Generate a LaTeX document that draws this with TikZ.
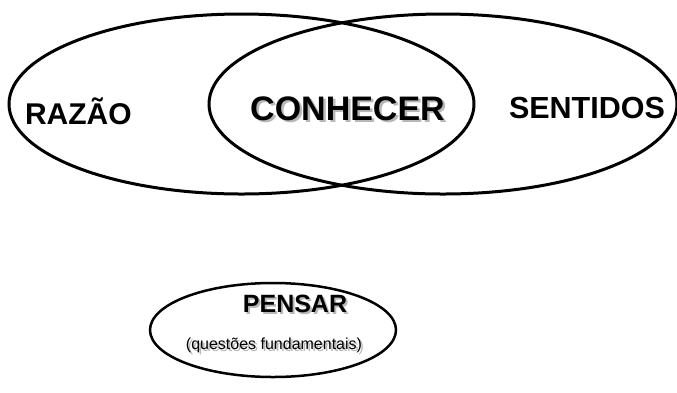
\documentclass[tikz,border=0pt]{standalone}
\usepackage{fontspec}
\setmainfont{Liberation Sans}
\usetikzlibrary{shapes.geometric}
\tikzset{
  ring/.style={ellipse, draw=black, line width=#1, inner sep=0pt, fill=none},
  ring/.default=3pt,
  lbl/.style={inner sep=0pt, outer sep=0pt, anchor=base, font=\bfseries},
  shade/.style={inner sep=0pt, outer sep=0pt, anchor=base, text=black!28},
}
\begin{document}
\begin{tikzpicture}[x=1pt,y=-1pt]
\useasboundingbox (0,0) rectangle (677,392);
% ellipses
\node[ring, minimum width=465pt, minimum height=180pt] (razao) at (241.5,104) {};
\node[ring, minimum width=468pt, minimum height=180pt] (sentidos) at (443,104) {};
\node[ring=2.5pt, minimum width=246pt, minimum height=94pt] (pensar) at (273,330) {};
% texts
\node[lbl, anchor=base west, font=\bfseries\fontsize{30}{36}\selectfont] (tr) at (25,124) {RAZÃO};
\node[lbl, anchor=base west, font=\bfseries\fontsize{30.5}{36}\selectfont] (ts) at (509,118) {SENTIDOS};
\node[shade, font=\bfseries\fontsize{34}{40}\selectfont] (tcs) at (350,122.5) {CONHECER};
\node[lbl, font=\bfseries\fontsize{34}{40}\selectfont] (tc) at (347.5,120) {CONHECER};
\node[shade, font=\bfseries\fontsize{25}{30}\selectfont] (tps) at (297,314.5) {PENSAR};
\node[lbl, font=\bfseries\fontsize{25}{30}\selectfont] (tp) at (295,312) {PENSAR};
\node[shade, font=\fontsize{16}{19}\selectfont] (tqs) at (276,351) {(questões fundamentais)};
\node[inner sep=0pt, anchor=base, font=\fontsize{16}{19}\selectfont] (tq) at (274,349) {(questões fundamentais)};
\end{tikzpicture}
\end{document}
